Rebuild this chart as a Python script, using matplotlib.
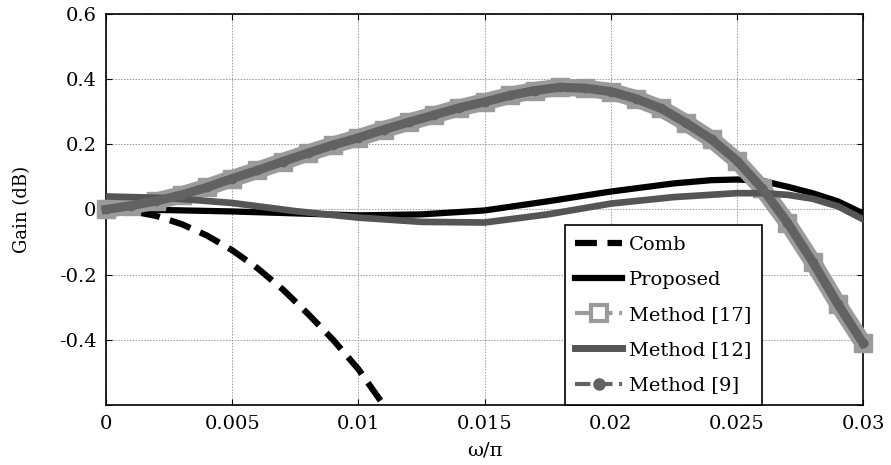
import matplotlib
matplotlib.use('Agg')
import matplotlib.pyplot as plt
from matplotlib.lines import Line2D

plt.rcParams['font.family'] = ['DejaVu Serif']

# ---------------------------------------------------------------------------
# data
# ---------------------------------------------------------------------------
comb_x = [0, 0.001, 0.002, 0.003, 0.004, 0.005, 0.006, 0.007, 0.008, 0.009, 0.010, 0.011]
comb_y = [0, -0.005, -0.02, -0.045, -0.08, -0.125, -0.18, -0.245, -0.32, -0.40, -0.49, -0.60]

prop_x = [0, 0.0025, 0.005, 0.0075, 0.01, 0.0125, 0.015, 0.0175, 0.02, 0.0225,
          0.024, 0.025, 0.026, 0.027, 0.028, 0.029, 0.03]
prop_y = [0, -0.002, -0.006, -0.012, -0.018, -0.015, -0.003, 0.025, 0.055, 0.08,
          0.09, 0.092, 0.088, 0.07, 0.05, 0.025, -0.012]

m17_x = [0, 0.001, 0.002, 0.003, 0.004, 0.005, 0.006, 0.007, 0.008, 0.009, 0.010,
         0.011, 0.012, 0.013, 0.014, 0.015, 0.016, 0.017, 0.018, 0.019, 0.020,
         0.021, 0.022, 0.023, 0.024, 0.025, 0.026, 0.027, 0.028, 0.029, 0.030]
m17_y = [0, 0.012, 0.026, 0.045, 0.068, 0.095, 0.12, 0.147, 0.173, 0.198, 0.22,
         0.245, 0.268, 0.29, 0.312, 0.33, 0.35, 0.365, 0.375, 0.372, 0.362,
         0.34, 0.31, 0.265, 0.215, 0.15, 0.065, -0.04, -0.16, -0.29, -0.41]

m12_x = [0, 0.0025, 0.005, 0.0075, 0.01, 0.0125, 0.015, 0.0175, 0.02, 0.0225,
         0.025, 0.026, 0.027, 0.028, 0.029, 0.03]
m12_y = [0.04, 0.035, 0.02, -0.005, -0.025, -0.038, -0.04, -0.015, 0.018, 0.038,
         0.05, 0.05, 0.045, 0.033, 0.01, -0.03]

# Method [9] lies on top of Method [17]
m9_x = m17_x
m9_y = m17_y

xticks = [0, 0.005, 0.01, 0.015, 0.02, 0.025, 0.03]
xtick_labels = ['0', '0.005', '0.01', '0.015', '0.02', '0.025', '0.03']
yticks = [-0.6, -0.4, -0.2, 0, 0.2, 0.4, 0.6]
ytick_labels = ['', '-0.4', '-0.2', '0', '0.2', '0.4', '0.6']

LIGHT = '#9b9b9b'
DARK = '#555555'
MID = '#626262'

fig = plt.figure(figsize=(8.91, 4.65), dpi=100)
ax = fig.add_axes([0.119, 0.129, 0.8496, 0.841])

ax.plot(comb_x, comb_y, color='black', lw=4.5, dashes=(3.5, 1.7), zorder=3)
ax.plot(prop_x, prop_y, color='black', lw=4.5, zorder=3)
ax.plot(m17_x, m17_y, color=LIGHT, lw=12.5, solid_capstyle='butt', zorder=4, clip_on=False)
ax.plot(m17_x, m17_y, ls='none', marker='s', ms=12.5, mfc=LIGHT, mec=LIGHT, zorder=4,
        clip_on=False)
ax.plot(m12_x, m12_y, color=DARK, lw=4.8, zorder=5)
ax.plot(m9_x, m9_y, color=MID, lw=6.5, zorder=6, clip_on=False)
ax.plot(m9_x, m9_y, ls='none', marker='o', ms=6, mfc=MID, mec=MID, zorder=6, clip_on=False)

ax.set_xlim(0, 0.03)
ax.set_ylim(-0.6, 0.6)
ax.set_xticks(xticks)
ax.set_xticklabels(xtick_labels)
ax.set_yticks(yticks)
ax.set_yticklabels(ytick_labels)
ax.tick_params(direction='in', length=4, labelsize=14, top=True, right=True, pad=7)
ax.grid(True, color='#999999', ls=(0, (1.5, 1.5)), lw=0.7)
for s in ax.spines.values():
    s.set_linewidth(1.2)

ax.set_xlabel('ω/π', fontsize=14, labelpad=6)
ax.set_ylabel('Gain (dB)', fontsize=13, labelpad=20)

handles = [
    Line2D([], [], color='black', lw=4.5, dashes=(3.5, 1.7)),
    Line2D([], [], color='black', lw=4.5),
    Line2D([], [], color=LIGHT, lw=3, ls='--', marker='s', ms=12, mfc='white', mec=LIGHT, mew=3),
    Line2D([], [], color=DARK, lw=5),
    Line2D([], [], color=MID, lw=3, ls='--', marker='o', ms=8, mfc=MID, mec=MID),
]
labels = ['Comb', 'Proposed', 'Method [17]', 'Method [12]', 'Method [9]']
leg = ax.legend(handles, labels, loc='lower right', bbox_to_anchor=(0.8666, 0.0),
                fontsize=14, fancybox=False, edgecolor='black', framealpha=1,
                handlelength=2.4, handletextpad=0.35, borderpad=0.55, labelspacing=0.88,
                borderaxespad=0)
leg.get_frame().set_linewidth(1.2)
leg.set_zorder(10)

fig.savefig('out.png', dpi=100)
